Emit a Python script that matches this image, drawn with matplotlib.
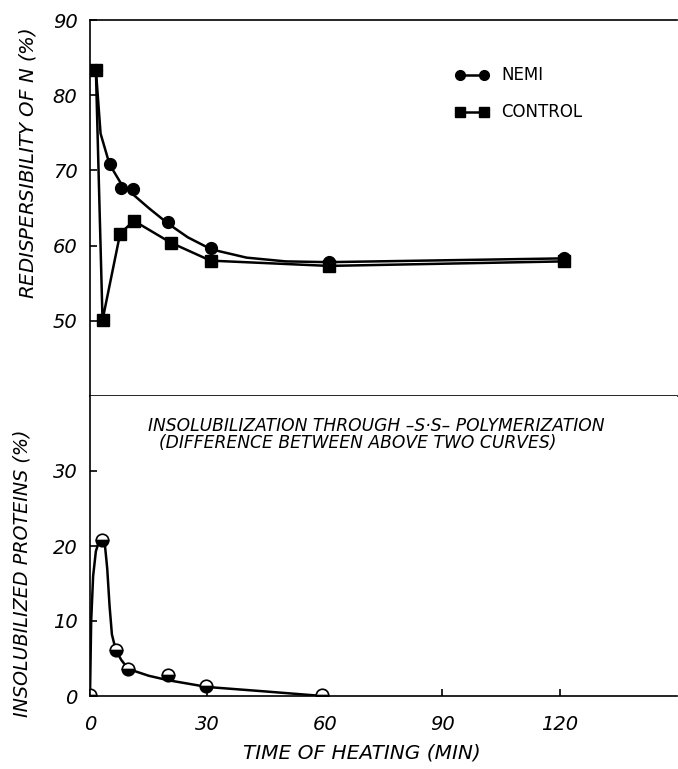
import matplotlib
matplotlib.use("Agg")
import matplotlib.pyplot as plt

# ── data ──
# top panel: redispersibility of N (%)
nemi_t = [1.5, 5, 8, 11, 20, 31, 61, 121]
nemi_y = [83.4, 70.8, 67.6, 67.5, 63.1, 59.7, 57.8, 58.3]
ctrl_t = [1.5, 3.2, 7.7, 11.2, 20.6, 30.8, 61, 121]
ctrl_y = [83.4, 50.1, 61.6, 63.3, 60.4, 58.0, 57.3, 57.9]
# hand-drawn smooth curve through the NEMI points
nemi_curve_t = [1.5, 2.7, 5, 8, 11, 15, 20, 25, 31, 40, 50, 61, 121]
nemi_curve_y = [83.4, 74.9, 70.8, 68.2, 66.8, 65.0, 62.9, 61.1, 59.5, 58.4, 57.9, 57.8, 58.3]

# bottom panel: insolubilized proteins (%)
insol_t = [0, 3.0, 6.6, 9.8, 20, 29.6, 59.4]
insol_y = [0.1, 20.8, 6.1, 3.6, 2.8, 1.3, 0.1]
insol_curve_t = [0, 0.3, 0.8, 1.5, 2.3, 3.0, 3.8, 4.4, 5.0, 5.6, 6.6, 8, 9.8, 15, 20, 30, 45, 59.4]
insol_curve_y = [0, 10, 16, 19.3, 20.6, 20.9, 20.2, 17, 12, 8.2, 6.1, 4.8, 3.6, 2.7, 2.1, 1.2, 0.6, 0.0]

x_ticks = [0, 30, 60, 90, 120]
top_yticks = [50, 60, 70, 80, 90]
bot_yticks = [0, 10, 20, 30]

W, H = 678, 769
plt.rcParams.update({
    "font.family": ["DejaVu Sans"],
    "mathtext.fontset": "dejavusans",
    "axes.linewidth": 1.2,
    "xtick.direction": "in",
    "ytick.direction": "in",
    "xtick.major.size": 5,
    "ytick.major.size": 5,
    "xtick.major.width": 1.2,
    "ytick.major.width": 1.2,
})

fig = plt.figure(figsize=(W / 100, H / 100), dpi=100)
left, right = 90, 677
ax1 = fig.add_axes([left / W, (H - 396) / H, (right - left) / W, 376 / H])
ax2 = fig.add_axes([left / W, (H - 696) / H, (right - left) / W, 300 / H])

LW = 1.8
# ── top panel ──
ax1.plot(nemi_curve_t, nemi_curve_y, color="black", lw=LW)
ax1.plot(nemi_t, nemi_y, "o", color="black", ms=8.5, ls="none")
ax1.plot(ctrl_t, ctrl_y, color="black", lw=LW, marker="s", ms=8)
ax1.set_xlim(0, 150)
ax1.set_ylim(40, 90)
ax1.set_yticks(top_yticks)
ax1.set_xticks([])
ax1.spines["right"].set_visible(False)
ax1.set_ylabel("REDISPERSIBILITY OF $\\mathit{N}$ (%)", fontsize=14.2,
               style="italic")
ax1.yaxis.set_label_coords(-0.089, 0.62)

# legend drawn by hand as in the original
for yy, mk, lab in [(82.7, "o", "NEMI"), (77.7, "s", "CONTROL")]:
    ax1.plot([94.6, 100.7], [yy, yy], color="black", lw=LW, marker=mk,
             ms=7, clip_on=False)
    ax1.text(105.0, yy, lab, fontsize=12, va="center", ha="left")

# ── bottom panel ──
ax2.plot(insol_curve_t, insol_curve_y, color="black", lw=LW)
ax2.plot(insol_t, insol_y, "o", ms=9, color="black", fillstyle="bottom",
         markerfacecoloralt="white", markeredgecolor="black", mew=1.2, ls="none")
ax2.set_xlim(0, 150)
ax2.set_ylim(0, 40)
ax2.set_yticks(bot_yticks)
ax2.set_xticks(x_ticks)
ax2.spines["top"].set_visible(False)
ax2.spines["right"].set_visible(False)
ax2.set_ylabel("INSOLUBILIZED PROTEINS (%)", fontsize=13.8, style="italic")
ax2.yaxis.set_label_coords(-0.099, 0.41)
ax2.set_xlabel("TIME OF HEATING (MIN)", fontsize=14.5, style="italic", va="center")
ax2.xaxis.set_label_coords(0.463, -0.19)
ax2.text(0.488, 0.9, "INSOLUBILIZATION THROUGH \u2013S\u00b7S\u2013 POLYMERIZATION",
         transform=ax2.transAxes, ha="center", va="center", fontsize=12.3,
         style="italic")
ax2.text(0.456, 0.843, "(DIFFERENCE BETWEEN ABOVE TWO CURVES)",
         transform=ax2.transAxes, ha="center", va="center", fontsize=12.3,
         style="italic")

ax1.tick_params(labelsize=14, pad=9)
ax2.tick_params(axis="y", labelsize=14, pad=9)
ax2.tick_params(axis="x", labelsize=14, pad=14)
for ax in (ax1, ax2):
    for t in ax.get_xticklabels() + ax.get_yticklabels():
        t.set_style("italic")

fig.savefig("out.png", dpi=100)
